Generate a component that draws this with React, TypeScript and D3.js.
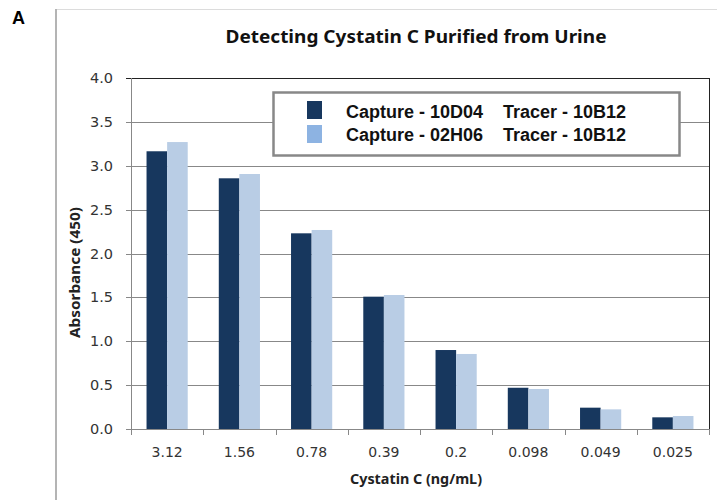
import React, { useEffect } from 'react'
import * as d3 from 'd3'

const concentrations = ['3.12', '1.56', '0.78', '0.39', '0.2', '0.098', '0.049', '0.025']
const seriesNames = ['Capture - 10D04', 'Capture - 02H06']
const tracerNames = ['Tracer - 10B12', 'Tracer - 10B12']
const capture10D04 = [3.165, 2.857, 2.23, 1.508, 0.9, 0.47, 0.243, 0.133]
const capture02H06 = [3.27, 2.906, 2.268, 1.527, 0.855, 0.456, 0.224, 0.148]
const yTicks = [0, 0.5, 1, 1.5, 2, 2.5, 3, 3.5, 4]

const barColors = ['#17375e', '#b9cde5']
const legendColors = ['#17375e', '#8db3e2']

export default function App() {
  useEffect(() => {
    document.body.style.margin = '0'
  }, [])

  const left = 131, right = 709, top = 78, bottom = 429
  const x = d3.scaleBand<string>()
    .domain(concentrations)
    .range([left, right])
    .paddingInner(0.43)
    .paddingOuter(0.215)
  const x1 = d3.scaleBand<number>()
    .domain([0, 1])
    .range([0, x.bandwidth()])
  const y = d3.scaleLinear().domain([0, 4]).range([bottom, top])
  const step = x.step()
  const allSeries = [capture10D04, capture02H06]

  return (
    <svg width={717} height={500} style={{ display: 'block', background: '#fff' }}>
      {/* chart area frame */}
      <line x1={56} x2={717} y1={9.5} y2={9.5} stroke="#dcdcdc" />
      <line x1={56} x2={56} y1={9} y2={500} stroke="#b4b4b4" strokeWidth={2} />
      <text x={12} y={24} fontFamily="Liberation Sans, Arial" fontWeight="bold" fontSize={18}>A</text>

      <text x={416} y={43} textAnchor="middle" fontFamily="Noto Sans" fontWeight="bold" fontSize={17}
        textLength={381} lengthAdjust="spacingAndGlyphs" fill="#111">
        Detecting Cystatin C Purified from Urine
      </text>

      {/* gridlines */}
      {yTicks.map(t => (
        <line key={'g' + t} x1={left - 5} x2={right} y1={Math.round(y(t)) + 0.5} y2={Math.round(y(t)) + 0.5}
          stroke={t === 4 ? '#222' : '#888'} strokeWidth={1} />
      ))}
      <line x1={right + 0.5} x2={right + 0.5} y1={top} y2={bottom} stroke="#222" />
      <line x1={left + 0.5} x2={left + 0.5} y1={top} y2={bottom + 1} stroke="#888" />

      {/* x ticks */}
      {d3.range(concentrations.length + 1).map(i => (
        <line key={'xt' + i} x1={Math.round(left + i * step) + 0.5} x2={Math.round(left + i * step) + 0.5}
          y1={bottom} y2={bottom + 6} stroke="#888" />
      ))}

      {/* bars */}
      {allSeries.map((vals, s) => (
        <g key={'s' + s} fill={barColors[s]}>
          {vals.map((v, i) => (
            <rect key={i} x={(x(concentrations[i]) ?? 0) + (x1(s) ?? 0)} y={y(v)}
              width={x1.bandwidth()} height={y(0) - y(v)} />
          ))}
        </g>
      ))}

      {/* y tick labels */}
      {yTicks.map(t => (
        <text key={'yl' + t} x={113} y={y(t) + 5} textAnchor="end" fontFamily="DejaVu Sans" fontSize={14.5} fill="#333">
          {t.toFixed(1)}
        </text>
      ))}

      {/* x tick labels */}
      {concentrations.map(c => (
        <text key={'xl' + c} x={(x(c) ?? 0) + x.bandwidth() / 2} y={457} textAnchor="middle"
          fontFamily="DejaVu Sans" fontSize={14} fill="#333">
          {c}
        </text>
      ))}

      <text x={416} y={484} textAnchor="middle" fontFamily="Noto Sans" fontWeight="bold" fontSize={13.5}
        textLength={132} lengthAdjust="spacingAndGlyphs" fill="#222">
        Cystatin C (ng/mL)
      </text>
      <text transform={`translate(80,${(207 + 338) / 2}) rotate(-90)`} textAnchor="middle" fontFamily="Noto Sans"
        fontWeight="bold" fontSize={13.5} textLength={131} lengthAdjust="spacingAndGlyphs" fill="#222">
        Absorbance (450)
      </text>

      {/* legend */}
      <rect x={273.5} y={92.5} width={406} height={63} fill="#fff" stroke="#888" strokeWidth={2.5} />
      {seriesNames.map((name, i) => (
        <g key={'lg' + i}>
          <rect x={307} y={101 + i * 24} width={15} height={18} fill={legendColors[i]} />
          <text x={346} y={118 + i * 23} fontFamily="Liberation Sans, Arial" fontWeight="bold" fontSize={18} fill="#111">
            {name}
          </text>
          <text x={503} y={118 + i * 23} fontFamily="Liberation Sans, Arial" fontWeight="bold" fontSize={18} fill="#111">
            {tracerNames[i]}
          </text>
        </g>
      ))}
    </svg>
  )
}
